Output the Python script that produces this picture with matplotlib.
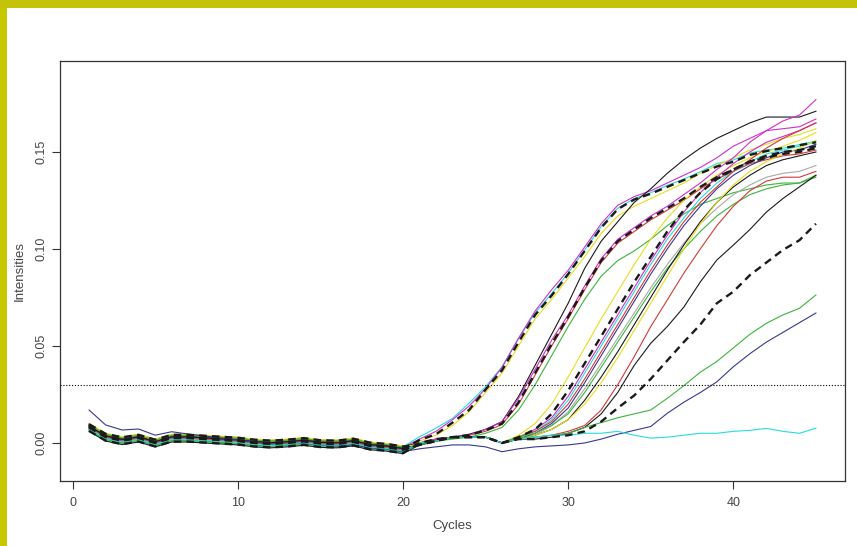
import numpy as np
import matplotlib
matplotlib.use("Agg")
import matplotlib.pyplot as plt
from matplotlib.patches import Rectangle

plt.rcParams['font.family'] = ['Liberation Sans', 'DejaVu Sans']

# ---------------- data ----------------
cycles = np.arange(1, 46)
x_ticks = [0, 10, 20, 30, 40]
y_ticks = [0.00, 0.05, 0.10, 0.15]
threshold = 0.03

# shared baseline for cycles 1-20
base_early = [0.008, 0.003, 0.0012, 0.0025, 0.0, 0.0025, 0.0025, 0.002, 0.0015, 0.001,
              0.0, -0.0005, 0.0, 0.0008, -0.0003, -0.0005, 0.0005, -0.0015, -0.0022, -0.0035]
# the one trace that starts high (late blue)
blue_early = [0.017, 0.0093, 0.0067, 0.0072, 0.004, 0.0058, 0.0046, 0.0036, 0.0025, 0.0015,
              0.0005, -0.0005, -0.0005, 0.0, -0.001, -0.0015, -0.001, -0.0025, -0.003, -0.0045]

# cycles 21-45 for each trace
A_cyan = [0.0032, 0.0076, 0.0127, 0.0205, 0.029, 0.0393, 0.054, 0.067, 0.077, 0.0875, 0.0995, 0.1115, 0.121,
          0.126, 0.129, 0.1328, 0.136, 0.1398, 0.144, 0.1459, 0.1495, 0.151, 0.152, 0.1538, 0.1556]
A_dash = [0.0015, 0.0045, 0.0105, 0.017, 0.0275, 0.0375, 0.052, 0.066, 0.076, 0.087, 0.099, 0.111, 0.1205,
          0.1255, 0.1285, 0.132, 0.1355, 0.139, 0.1425, 0.145, 0.1485, 0.1505, 0.152, 0.1535, 0.155]
A_yellow = [0.001, 0.004, 0.009, 0.016, 0.026, 0.036, 0.050, 0.064, 0.074, 0.085, 0.096, 0.108, 0.117,
            0.122, 0.126, 0.130, 0.134, 0.139, 0.143, 0.147, 0.151, 0.154, 0.157, 0.159, 0.162]
A_magenta = [0.002, 0.006, 0.012, 0.019, 0.028, 0.039, 0.054, 0.068, 0.079, 0.089, 0.101, 0.113, 0.1225,
             0.127, 0.130, 0.134, 0.138, 0.142, 0.147, 0.153, 0.157, 0.161, 0.162, 0.163, 0.167]

B_black = [0.000, 0.002, 0.003, 0.0045, 0.007, 0.011, 0.024, 0.040, 0.056, 0.072, 0.090, 0.104, 0.114,
           0.124, 0.131, 0.139, 0.146, 0.152, 0.157, 0.161, 0.165, 0.168, 0.168, 0.168, 0.171]
B_dash = [0.000, 0.002, 0.003, 0.004, 0.0065, 0.010, 0.021, 0.036, 0.051, 0.065, 0.080, 0.094, 0.104,
          0.110, 0.116, 0.121, 0.126, 0.132, 0.137, 0.141, 0.145, 0.147, 0.149, 0.150, 0.152]
B_red = [0.000, 0.002, 0.003, 0.004, 0.006, 0.0095, 0.020, 0.035, 0.050, 0.064, 0.079, 0.093, 0.103,
         0.109, 0.115, 0.120, 0.125, 0.131, 0.136, 0.140, 0.144, 0.146, 0.148, 0.149, 0.151]
B_magenta = [0.000, 0.002, 0.003, 0.004, 0.007, 0.011, 0.023, 0.038, 0.053, 0.066, 0.081, 0.095, 0.105,
             0.111, 0.117, 0.122, 0.128, 0.134, 0.141, 0.147, 0.155, 0.161, 0.166, 0.169, 0.177]
B_green = [0.000, 0.001, 0.002, 0.003, 0.005, 0.008, 0.017, 0.030, 0.045, 0.060, 0.074, 0.086, 0.094,
           0.099, 0.105, 0.112, 0.118, 0.123, 0.126, 0.129, 0.131, 0.133, 0.134, 0.134, 0.137]

C_yellow = [-0.001, 0.001, 0.003, 0.003, 0.003, 0.000, 0.004, 0.010, 0.020, 0.034, 0.049, 0.064, 0.078,
            0.092, 0.105, 0.116, 0.125, 0.132, 0.138, 0.143, 0.147, 0.150, 0.153, 0.156, 0.160]
C_dash = [-0.001, 0.001, 0.003, 0.003, 0.003, 0.000, 0.003, 0.007, 0.015, 0.027, 0.041, 0.055, 0.069,
          0.083, 0.096, 0.109, 0.120, 0.129, 0.136, 0.141, 0.145, 0.148, 0.150, 0.151, 0.153]
C_magenta = [-0.001, 0.001, 0.003, 0.003, 0.003, 0.000, 0.003, 0.007, 0.013, 0.024, 0.038, 0.052, 0.066,
             0.080, 0.094, 0.107, 0.119, 0.129, 0.137, 0.144, 0.150, 0.155, 0.158, 0.161, 0.165]
C_cyan = [-0.001, 0.001, 0.003, 0.003, 0.003, 0.000, 0.003, 0.006, 0.012, 0.022, 0.036, 0.050, 0.064,
          0.078, 0.092, 0.105, 0.116, 0.126, 0.134, 0.140, 0.145, 0.149, 0.151, 0.153, 0.155]
C_red = [-0.001, 0.001, 0.003, 0.003, 0.003, 0.000, 0.003, 0.006, 0.011, 0.020, 0.033, 0.047, 0.061,
         0.075, 0.089, 0.102, 0.114, 0.124, 0.132, 0.140, 0.146, 0.152, 0.157, 0.161, 0.165]
C_blue = [-0.001, 0.001, 0.003, 0.003, 0.003, 0.000, 0.002, 0.005, 0.010, 0.018, 0.031, 0.045, 0.059,
          0.073, 0.087, 0.100, 0.112, 0.122, 0.131, 0.138, 0.143, 0.147, 0.150, 0.151, 0.154]
C_gray = [-0.001, 0.001, 0.003, 0.003, 0.003, 0.000, 0.002, 0.004, 0.009, 0.016, 0.028, 0.041, 0.054,
          0.067, 0.080, 0.092, 0.103, 0.113, 0.121, 0.128, 0.133, 0.137, 0.139, 0.140, 0.143]
C_green = [-0.001, 0.001, 0.003, 0.003, 0.003, 0.000, 0.003, 0.005, 0.009, 0.015, 0.026, 0.039, 0.052,
           0.065, 0.078, 0.090, 0.100, 0.109, 0.117, 0.123, 0.128, 0.131, 0.133, 0.134, 0.138]
C_black = [-0.001, 0.001, 0.003, 0.003, 0.003, 0.000, 0.002, 0.004, 0.007, 0.012, 0.022, 0.034, 0.047,
           0.061, 0.075, 0.089, 0.102, 0.114, 0.124, 0.132, 0.138, 0.143, 0.146, 0.148, 0.150]
C_yellow2 = [-0.001, 0.001, 0.003, 0.003, 0.003, 0.000, 0.002, 0.004, 0.007, 0.012, 0.020, 0.031, 0.044,
             0.058, 0.072, 0.086, 0.100, 0.113, 0.124, 0.133, 0.140, 0.145, 0.149, 0.152, 0.156]

D_red = [-0.001, 0.001, 0.003, 0.003, 0.003, 0.000, 0.002, 0.003, 0.004, 0.006, 0.009, 0.017, 0.030,
         0.0445, 0.060, 0.0737, 0.0875, 0.100, 0.112, 0.122, 0.130, 0.135, 0.137, 0.137, 0.140]
D_black = [-0.001, 0.001, 0.003, 0.003, 0.003, 0.000, 0.002, 0.002, 0.003, 0.005, 0.008, 0.015, 0.026,
           0.040, 0.0514, 0.060, 0.070, 0.083, 0.0943, 0.102, 0.110, 0.119, 0.126, 0.132, 0.138]
D_dash = [-0.001, 0.001, 0.003, 0.003, 0.003, 0.000, 0.002, 0.002, 0.003, 0.004, 0.006, 0.011, 0.018,
          0.0245, 0.033, 0.0425, 0.052, 0.061, 0.072, 0.078, 0.0865, 0.093, 0.0995, 0.1045, 0.113]
D_green = [-0.001, 0.001, 0.003, 0.003, 0.003, 0.000, 0.003, 0.003, 0.004, 0.005, 0.008, 0.0105, 0.013,
           0.015, 0.017, 0.023, 0.0295, 0.0365, 0.042, 0.049, 0.056, 0.0617, 0.066, 0.0694, 0.0763]
D_blue = [-0.003, -0.002, -0.001, -0.001, -0.002, -0.0045, -0.003, -0.002, -0.0015, -0.001, 0.000, 0.002, 0.0045,
          0.0065, 0.0085, 0.0153, 0.021, 0.026, 0.0315, 0.0393, 0.046, 0.052, 0.057, 0.062, 0.067]
D_cyan = [0.000, 0.001, 0.003, 0.003, 0.003, 0.000, 0.002, 0.003, 0.004, 0.004, 0.005, 0.005, 0.006,
          0.004, 0.0025, 0.003, 0.004, 0.005, 0.005, 0.006, 0.0065, 0.0075, 0.006, 0.005, 0.0076]

# per-trace shift of the shared early baseline
early_shift = [0.0015, 0.0005, 0.0010, 0.0018, 0.0008, 0.0002, -0.0010, 0.0012, -0.0005,
               -0.0015, 0.0003, 0.0010, -0.0008, 0.0014, -0.0020, 0.0020, -0.0003, 0.0006,
               -0.0012, 0.0000, -0.0006, 0.0004, -0.0018, 0.0, 0.0017]

# ---------------- styles ----------------
COL = {'black': '#1a1a1a', 'red': '#d23a3a', 'green': '#3cb43c', 'blue': '#38388f',
       'cyan': '#28dcdc', 'magenta': '#cf2fcf', 'yellow': '#e6df1e', 'gray': '#a9a9a9'}

traces = [
    (A_cyan, 'cyan', False), (A_yellow, 'yellow', False), (A_magenta, 'magenta', False),
    (B_black, 'black', False), (B_red, 'red', False), (B_magenta, 'magenta', False), (B_green, 'green', False),
    (C_yellow, 'yellow', False), (C_magenta, 'magenta', False), (C_cyan, 'cyan', False), (C_red, 'red', False),
    (C_blue, 'blue', False), (C_gray, 'gray', False), (C_green, 'green', False), (C_black, 'black', False),
    (C_yellow2, 'yellow', False), (D_red, 'red', False), (D_black, 'black', False), (D_green, 'green', False),
    (D_blue, 'blue', False), (D_cyan, 'cyan', False),
    (A_dash, 'black', True), (B_dash, 'black', True), (C_dash, 'black', True), (D_dash, 'black', True),
]

# ---------------- figure ----------------
fig = plt.figure(figsize=(8.57, 5.46), dpi=100)
fig.patch.set_facecolor('white')
W, H = 857, 546
ax = fig.add_axes([60 / W, (H - 481) / H, 785 / W, 420 / H])

for i, (late, cname, dashed) in enumerate(traces):
    early = blue_early if late is D_blue else base_early
    shift = early_shift[i]
    y = np.concatenate([np.asarray(early) + shift, np.asarray(late)])
    if dashed:
        ax.plot(cycles, y, color=COL['black'], lw=1.7, ls=(0, (3.2, 2.2)), zorder=3)
    else:
        ax.plot(cycles, y, color=COL[cname], lw=0.8, zorder=2)

ax.axhline(threshold, color='black', lw=0.8, ls=(0, (1, 1.6)), zorder=4)

ax.set_xlim(-0.76, 46.76)
ax.set_ylim(-0.0196, 0.1969)
ax.set_xticks(x_ticks)
ax.set_xticklabels([str(t) for t in x_ticks])
ax.set_yticks(y_ticks)
ax.set_yticklabels(['%.2f' % t for t in y_ticks], rotation=90, va='center')

for s in ax.spines.values():
    s.set_color('#333333')
    s.set_linewidth(0.9)
ax.tick_params(axis='both', direction='out', length=5.5, width=0.8, colors='#333333',
               labelsize=9, labelcolor='#444444')
ax.tick_params(axis='x', pad=6)
ax.tick_params(axis='y', pad=3.5)

ax.set_xlabel('Cycles', fontsize=9.5, color='#444444', labelpad=8)
ax.set_ylabel('Intensities', fontsize=9.5, color='#444444', labelpad=7)

# yellow frame on left and top edges
fig.patches.append(Rectangle((0, 0), 7 / W, 1, transform=fig.transFigure,
                             facecolor='#c8c800', edgecolor='none', zorder=10))
fig.patches.append(Rectangle((0, 1 - 8 / H), 1, 8 / H, transform=fig.transFigure,
                             facecolor='#c4c20a', edgecolor='none', zorder=10))

fig.savefig('out.png', dpi=100)
